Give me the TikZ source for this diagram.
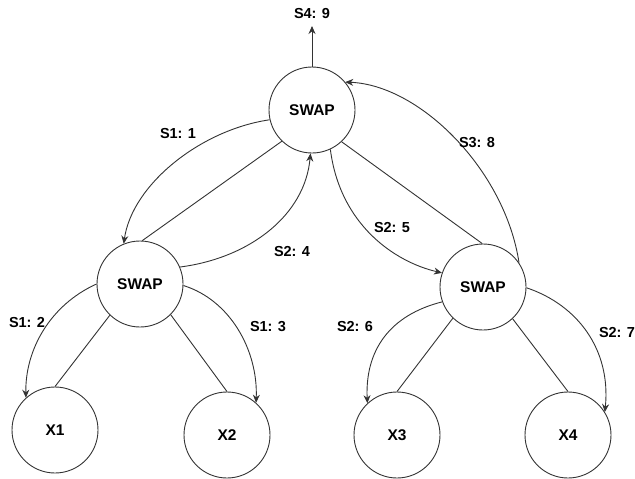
\documentclass[tikz,border=0pt]{standalone}
\usepackage{fontspec}
\setmainfont{Liberation Sans}
\usetikzlibrary{arrows.meta}
\begin{document}
\begin{tikzpicture}[x=1pt,y=-1pt,
  circ/.style={circle,draw=black!80,line width=0.9pt,minimum size=86pt,inner sep=0pt,font=\fontsize{15.5}{18}\selectfont\bfseries},
  lbl/.style={font=\fontsize{14.5}{17}\selectfont\bfseries},
  link/.style={draw=black!80,line width=0.9pt},
  arr/.style={link,-{Stealth[length=8pt,width=7pt]}}]
\useasboundingbox (0,0) rectangle (635,479);
\node[circ] (T) at (312,110) {SWAP};
\node[circ] (L) at (140,284) {SWAP};
\node[circ] (R) at (483,287) {SWAP};
\node[circ] (X1) at (55,430) {X1};
\node[circ] (X2) at (227,435) {X2};
\node[circ] (X3) at (397,435) {X3};
\node[circ] (X4) at (568,435) {X4};
\coordinate (top) at (312,26);
% straight tree lines
\draw[link] (T.-134) -- (L.87);
\draw[link] (T.-47) -- (R.91);
\draw[link] (L.-134) -- (X1.90);
\draw[link] (L.-45) -- (X2.90);
\draw[link] (R.-134) -- (X3.90);
\draw[link] (R.-47) -- (X4.90);
% curved arrows
\draw[arr] (T.90) -- (top);
\draw[arr] (T.193) .. controls (200,130) and (132,185) .. (L.112);
\draw[arr] (L.23) .. controls (250,258) and (305,215) .. (T.-92);
\draw[arr] (T.-65) .. controls (340,225) and (395,262) .. (R.161);
\draw[arr] (R.34) .. controls (505,170) and (420,85) .. (T.40);
\draw[arr] (L.180) .. controls (50,305) and (25,350) .. (X1.132);
\draw[arr] (L.-2) .. controls (230,300) and (258,350) .. (X2.48);
\draw[arr] (R.-160) .. controls (390,315) and (365,350) .. (X3.133);
\draw[arr] (R.-1) .. controls (578,305) and (611,350) .. (X4.32);
% labels
\node[lbl] (l9) at (312,14) {S4: 9};
\node[lbl] (l1) at (178,134) {S1: 1};
\node[lbl] (l4) at (292,252) {S2: 4};
\node[lbl] (l5) at (392,228) {S2: 5};
\node[lbl] (l8) at (477,143) {S3: 8};
\node[lbl] (l2) at (27,323) {S1: 2};
\node[lbl] (l3) at (268,327) {S1: 3};
\node[lbl] (l6) at (355,327) {S2: 6};
\node[lbl] (l7) at (617,333) {S2: 7};
\end{tikzpicture}
\end{document}
